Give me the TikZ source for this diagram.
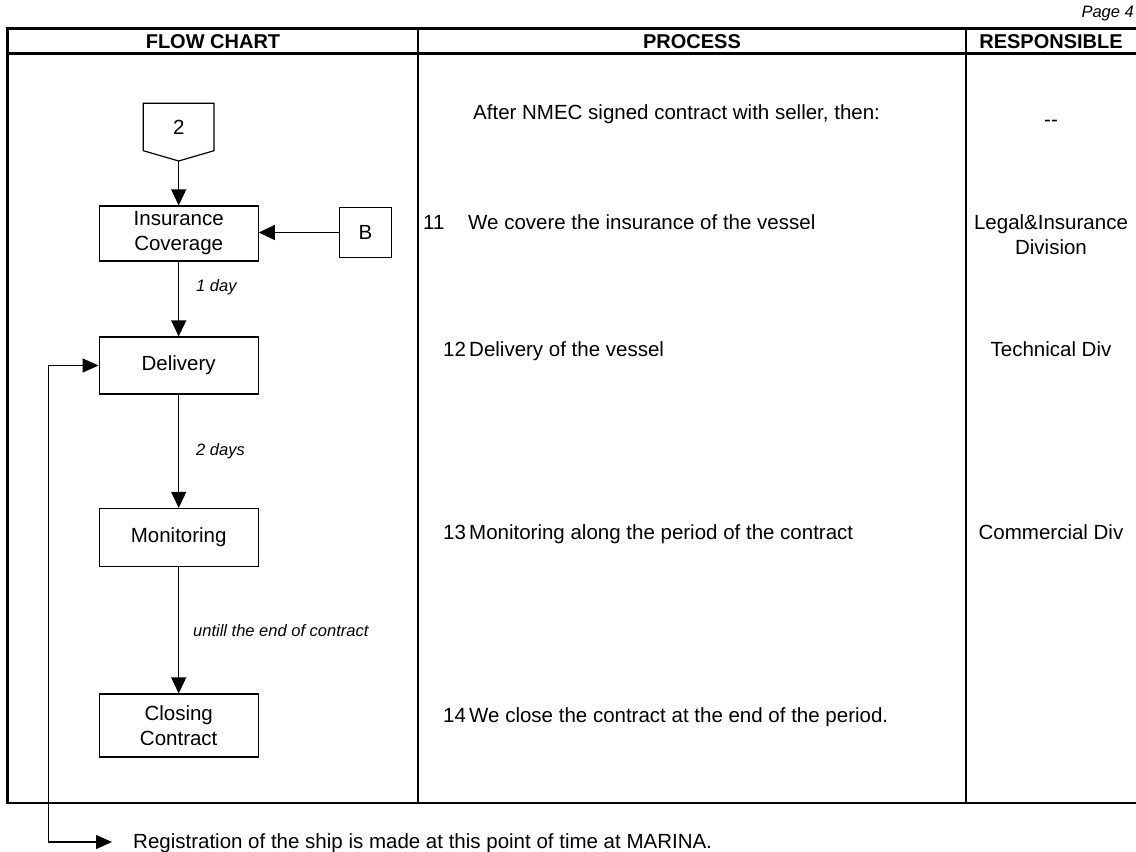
\documentclass[tikz,border=0pt]{standalone}
\usepackage{fontspec}
\setmainfont{Liberation Sans}
\usetikzlibrary{arrows.meta}
\begin{document}
\begin{tikzpicture}[x=1pt,y=-1pt,
  txt/.style={font=\fontsize{20.5}{24}\selectfont, inner sep=0pt, anchor=base west},
  ctxt/.style={font=\fontsize{20.5}{24}\selectfont, inner sep=0pt, anchor=base},
  head/.style={font=\bfseries\fontsize{20}{24}\selectfont, inner sep=0pt, anchor=base},
  lbl/.style={font=\itshape\fontsize{16.5}{20}\selectfont, inner sep=0pt, anchor=base west},
  box/.style={draw, line width=1.2pt, minimum width=159pt, align=center,
    font=\fontsize{20.5}{25}\selectfont, inner sep=0pt},
  flow/.style={line width=1.2pt, -{Triangle[length=16pt,width=15pt]}},
  frame/.style={line width=2.7pt}]
\clip (0,0) rectangle (1136,852);
\fill[white] (0,0) rectangle (1136,852);

% page number
\node[font=\itshape\fontsize{16.5}{20}\selectfont, inner sep=0pt, anchor=base east]
  (page) at (1134,17) {Page 4};

% table frame and column rules
\draw[frame] (1140,28.5) -- (7.5,28.5) -- (7.5,803) -- (1140,803);
\draw[frame] (7.5,53.5) -- (1140,53.5);
\draw[frame] (418,28.5) -- (418,803);
\draw[frame] (966,28.5) -- (966,803);

% headers
\node[head] (hflow) at (213,48) {FLOW CHART};
\node[head] (hproc) at (692,48) {PROCESS};
\node[head] (hresp) at (1051,48) {RESPONSIBLE};

% off-page connector "2"
\node[font=\fontsize{20.5}{24}\selectfont, inner sep=0pt] (c2) at (178.7,127) {2};
\draw[line width=1.2pt] (143.3,103.3) -- (214,103.3) -- (214,150.7) -- (178.7,161)
  -- (143.3,150.7) -- cycle;
\coordinate (c2tip) at (178.7,161);

% process boxes
\node[box, minimum height=55pt] (ins) at (178.7,233.5) {Insurance\\Coverage};
\node[draw, line width=1.2pt, minimum width=52pt, minimum height=50pt, inner sep=0pt,
  font=\fontsize{20.5}{24}\selectfont] (b) at (365.5,232.5) {B};
\node[box, minimum height=57pt] (del) at (178.7,365.5) {Delivery};
\node[box, minimum height=58pt] (mon) at (178.7,537.5) {Monitoring};
\node[box, minimum height=63pt] (clo) at (178.7,725.5) {Closing\\Contract};

% connectors
\draw[flow] (c2tip) -- (ins);
\draw[flow] (b.west) -- (b.west -| ins.east);
\draw[flow] (ins) -- (del);
\draw[flow] (del) -- (mon);
\draw[flow] (mon) -- (clo);

% durations
\node[lbl] (d1) at (196,291) {1 day};
\node[lbl] (d2) at (196,455) {2 days};
\node[lbl] (d3) at (193,636) {untill the end of contract};

% registration loop
\coordinate (loop) at (48.3,842);
\coordinate (regtip) at (112,842);
\draw[line width=1.2pt, {Triangle[length=16pt,width=14pt]}-{Triangle[length=16pt,width=14pt]}]
  (regtip) -- (loop) |- (del.west);
\node[txt] (reg) at (133,848.5) {Registration of the ship is made at this point of time at MARINA.};

% process column
\node[txt] (p0) at (473,119) {After NMEC signed contract with seller, then:};
\node[txt] (n11) at (423,229) {11};
\node[txt] (p11) at (468,229) {We covere the insurance of the vessel};
\node[txt] (n12) at (443,356) {12};
\node[txt] (p12) at (469,356) {Delivery of the vessel};
\node[txt] (n13) at (443,539) {13};
\node[txt] (p13) at (469,539) {Monitoring along the period of the contract};
\node[txt] (n14) at (443,722) {14};
\node[txt] (p14) at (469,722) {We close the contract at the end of the period.};

% responsible column
\node[ctxt] (r0) at (1051,126) {-{}-};
\node[ctxt] (r11a) at (1051,229) {Legal\&Insurance};
\node[ctxt] (r11b) at (1051,254) {Division};
\node[ctxt] (r12) at (1051,356) {Technical Div};
\node[ctxt] (r13) at (1051,539) {Commercial Div};
\end{tikzpicture}
\end{document}
